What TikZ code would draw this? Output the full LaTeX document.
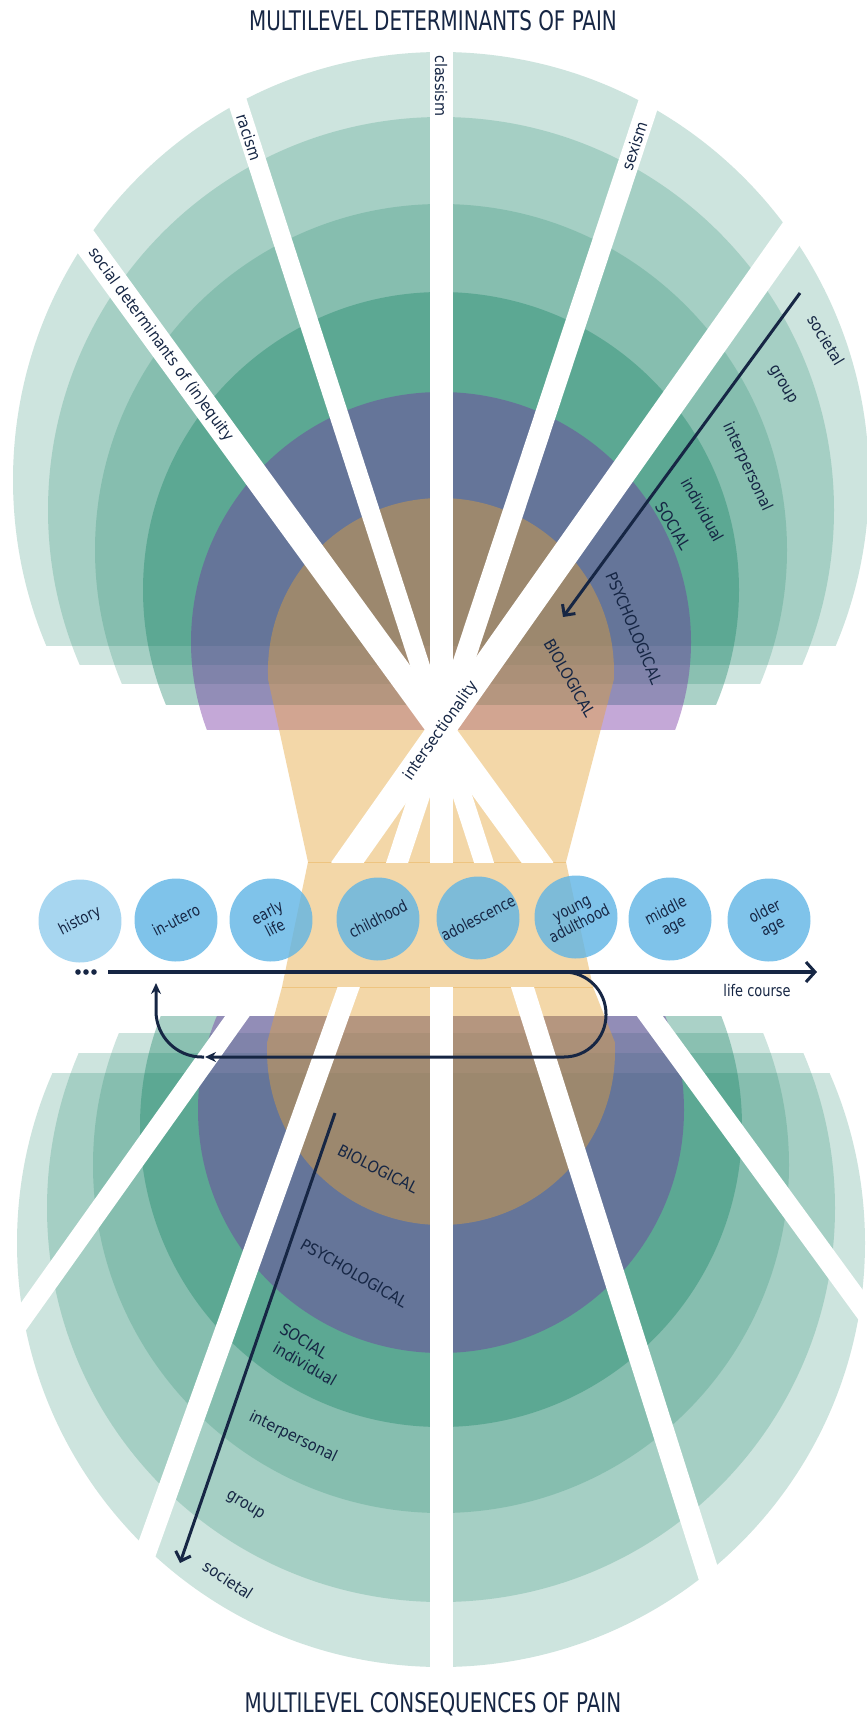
\documentclass[tikz,border=0pt]{standalone}
\usepackage{fontspec}
\setmainfont{DejaVu Sans}
\newfontfamily\cond{DejaVu Sans Condensed}
\usetikzlibrary{arrows.meta}
\definecolor{navy}{RGB}{22,38,68}
\definecolor{gband}{RGB}{20,130,100}
\definecolor{pband}{RGB}{115,48,162}
\definecolor{oband}{RGB}{229,163,55}
\definecolor{cblue}{RGB}{96,181,229}
\tikzset{
  gl/.style={fill=gband,fill opacity=0.21},
  glin/.style={fill=gband,fill opacity=0.36},
  pl/.style={fill=pband,fill opacity=0.42},
  ol/.style={fill=oband,fill opacity=0.43},
  ray/.style={draw=white,line cap=butt},
  lab/.style={text=navy,font=\cond\fontsize{16}{18}\selectfont,inner sep=0pt},
  age/.style={circle,minimum size=83pt,inner sep=0pt,fill=cblue,fill opacity=0.8,text opacity=1,text=navy,font=\cond\fontsize{16}{17}\selectfont,align=center,rotate=27},
  ttl/.style={text=navy,font=\cond\fontsize{27}{30}\selectfont,inner sep=0pt},
  darr/.style={draw=navy,line width=3pt,-{Straight Barb[length=8pt,width=16pt,line width=3pt]}},
  larr/.style={draw=navy,line width=3pt,-{Stealth[length=11pt,width=10pt]}},
}
\newcommand{\narrow}[1]{\scalebox{0.9}[1]{#1}}
\begin{document}
\begin{tikzpicture}[x=1pt,y=-1pt]
\useasboundingbox (0,0) rectangle (867,1721);
\fill[white] (0,0) rectangle (867,1721);
% upper bands
\begin{scope}\clip (0,0) rectangle (867,645); \fill[gl] (441,480) circle[radius=428]; \end{scope}
\begin{scope}\clip (0,0) rectangle (867,664); \fill[gl] (441,510) circle[radius=393]; \end{scope}
\begin{scope}\clip (0,0) rectangle (867,683); \fill[gl] (441,550) circle[radius=346]; \end{scope}
\begin{scope}\clip (0,0) rectangle (867,704); \fill[glin] (441,590) circle[radius=298]; \end{scope}
\begin{scope}\clip (0,0) rectangle (867,729); \fill[pl] (441,642) circle[radius=250]; \end{scope}
% lower bands
\begin{scope}\clip (0,1073) rectangle (867,1721); \fill[gl] (441,1243) circle[radius=424]; \end{scope}
\begin{scope}\clip (0,1053) rectangle (867,1721); \fill[gl] (441,1208) circle[radius=394]; \end{scope}
\begin{scope}\clip (0,1033) rectangle (867,1721); \fill[gl] (441,1165) circle[radius=348]; \end{scope}
\begin{scope}\clip (0,1016) rectangle (867,1721); \fill[glin] (441,1126) circle[radius=301]; \end{scope}
\begin{scope}\clip (0,1016) rectangle (867,1721); \fill[pl] (441,1110) circle[radius=243]; \end{scope}
% hourglass
\fill[ol] (268.2,680) arc[start angle=177.02,end angle=362.98,radius=173] -- (566,862) -- (593,987) -- (614.77,1042) arc[start angle=-2.96,end angle=182.96,radius=174] -- (282,987) -- (308,862) -- cycle;
\draw[oband,draw opacity=0.35,line width=1pt] (308,862) -- (566,862) (282,987) -- (593,987);
% rays
\coordinate (F) at (441,730);
\coordinate (sdT) at (55.2,200); \coordinate (sdB) at (542.9,870);
\coordinate (raT) at (223.9,60); \coordinate (raB) at (486.4,870);
\coordinate (clT) at (441,40); \coordinate (clB) at (441,870);
\coordinate (seT) at (662.8,60); \coordinate (seB) at (394.7,870);
\coordinate (riT) at (815.2,200); \coordinate (riB) at (342.2,870);
\begin{scope}
\clip (0,0) rectangle (867,862);
\draw[ray,line width=26pt] (sdT) -- (sdB);
\draw[ray,line width=19pt] (raT) -- (raB);
\draw[ray,line width=23pt] (clT) -- (clB);
\draw[ray,line width=21pt] (seT) -- (seB);
\draw[ray,line width=27pt] (riT) -- (riB);
\end{scope}
\coordinate (blE) at (85.2,1721); \coordinate (brE) at (755.1,1721);
\coordinate (bcE) at (441,1721); \coordinate (bflE) at (-36,1400);
\coordinate (bfrE) at (930.1,1400);
\begin{scope}
\clip (0,987) rectangle (867,1721);
\draw[ray,line width=21pt] (F) -- (blE);
\draw[ray,line width=22pt] (F) -- (brE);
\draw[ray,line width=23pt] (F) -- (bcE);
\draw[ray,line width=20pt] (F) -- (bflE);
\draw[ray,line width=21pt] (F) -- (bfrE);
\end{scope}
% ray texts
\node[lab,rotate=-90,anchor=west] (tcl) at (441,55) {classism};
\node[lab,rotate=-72.05,anchor=west] (tra) at (241.4,114) {racism};
\node[lab,rotate=71.7,anchor=east] (tse) at (642.2,122) {sexism};
\node[lab,rotate=-53.94,anchor=west] (tsd) at (91.6,250) {social determinants of (in)equity};
\node[lab,rotate=54.78] (tis) at (441,731) {intersectionality};
% circles
\node[age,fill opacity=0.55] (h) at (80,921) {\narrow{history}};
\node[age] (iu) at (176,920) {\narrow{in-utero}};
\node[age] (el) at (271,920) {\narrow{early}\\\narrow{life}};
\node[age] (ch) at (378,919) {\narrow{childhood}};
\node[age] (ad) at (478,918) {\narrow{adolescence}};
\node[age] (ya) at (576,917) {\narrow{young}\\\narrow{adulthood}};
\node[age] (ma) at (670,919) {\narrow{middle}\\\narrow{age}};
\node[age] (oa) at (769,920) {\narrow{older}\\\narrow{age}};
% life course
\coordinate (lcS) at (108,972); \coordinate (lcE) at (817,972);
\draw[navy,line width=3.5pt,-{Straight Barb[length=9pt,width=20pt,line width=3pt]}] (lcS) -- (lcE);
\fill[navy] (78,972) circle[radius=2.8] (86,972) circle[radius=2.8] (94,972) circle[radius=2.8];
\node[lab] (lct) at (757,991) {\narrow{life course}};
\coordinate (lp1) at (540,972); \coordinate (lp2) at (606,972);
\coordinate (lp3) at (606,1057); \coordinate (lp4) at (205,1057);
\draw[larr,rounded corners=42pt] (lp1) -- (lp2) -- (lp3) -- (lp4);
\coordinate (rt1) at (204,1057); \coordinate (rt2) at (156,1057); \coordinate (rt3) at (156,983);
\draw[larr,rounded corners=46pt] (rt1) -- (rt2) -- (rt3);
% level arrows
\coordinate (ta1) at (800,293); \coordinate (ta2) at (563,617);
\draw[darr] (ta1) -- (ta2);
\coordinate (ba1) at (335,1113); \coordinate (ba2) at (180,1563);
\draw[darr] (ba1) -- (ba2);
% upper labels
\node[lab,rotate=-59] (ts) at (826,340) {societal};
\node[lab,rotate=-59] (tg) at (782,385) {group};
\node[lab,rotate=-65] (tip) at (747,467) {interpersonal};
\node[lab,rotate=-61] (tin) at (703,510) {individual};
\node[lab,rotate=-59] (tso) at (673,526) {SOCIAL};
\node[lab,rotate=-67] (tps) at (634,628) {PSYCHOLOGICAL};
\node[lab,rotate=-60] (tbi) at (570,678) {BIOLOGICAL};
% lower labels
\node[lab,rotate=-27] (bbi) at (378,1169) {BIOLOGICAL};
\node[lab,rotate=-30] (bps) at (354,1273) {PSYCHOLOGICAL};
\node[lab,rotate=-32] (bso) at (304,1341) {SOCIAL};
\node[lab,rotate=-30] (bin) at (305,1364) {individual};
\node[lab,rotate=-26] (bip) at (293,1437) {interpersonal};
\node[lab,rotate=-31] (bg) at (245,1506) {group};
\node[lab,rotate=-33] (bs) at (228,1580) {societal};
% titles
\node[ttl] (t1) at (433,21) {\scalebox{0.82}[1]{MULTILEVEL DETERMINANTS OF PAIN}};
\node[ttl] (t2) at (433,1704) {\scalebox{0.82}[1]{MULTILEVEL CONSEQUENCES OF PAIN}};
\end{tikzpicture}
\end{document}
